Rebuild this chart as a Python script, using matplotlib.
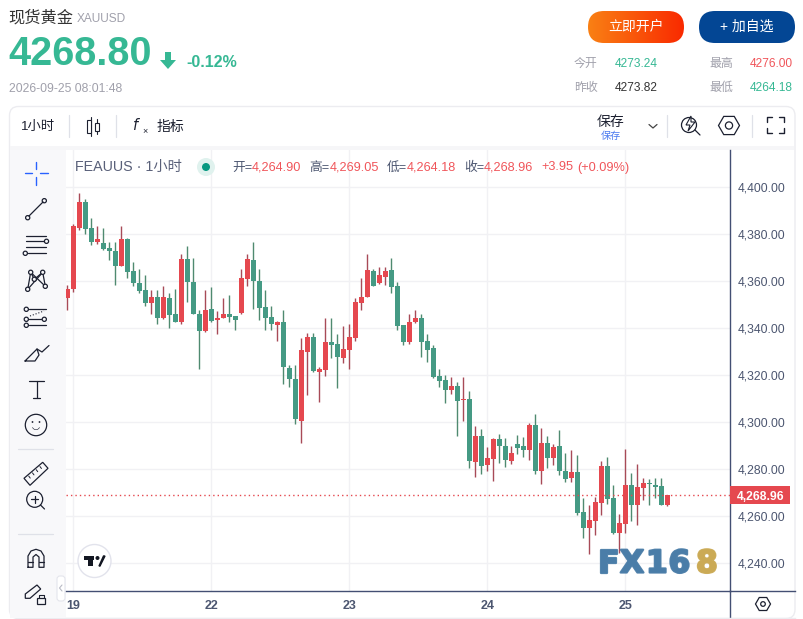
import numpy as np
import matplotlib
matplotlib.use("Agg")
import matplotlib.pyplot as plt
from matplotlib.patches import FancyBboxPatch, Circle, Polygon, Rectangle, RegularPolygon, Wedge
import matplotlib.patheffects as pe

plt.rcParams['font.family'] = ['Liberation Sans', 'Noto Sans CJK SC']

opens = [4352.6, 4356.5, 4382.4, 4393.3, 4382.3, 4376.3, 4375.9, 4373.8, 4372.5, 4366.2,
         4377.6, 4364.0, 4358.9, 4355.9, 4350.5, 4353.3, 4344.1, 4352.9, 4345.7, 4342.4,
         4369.1, 4359.7, 4346.1, 4338.6, 4348.2, 4343.3, 4344.1, 4346.1, 4345.2, 4346.2,
         4360.7, 4368.7, 4360.1, 4348.7, 4344.8, 4341.1, 4342.7, 4323.1, 4318.4, 4300.6,
         4329.6, 4336.3, 4321.4, 4322.3, 4333.8, 4333.3, 4327.4, 4330.8, 4335.9, 4350.4,
         4353.3, 4364.0, 4358.9, 4361.8, 4364.4, 4357.6, 4341.4, 4333.8, 4342.3, 4344.4,
         4334.6, 4331.6, 4319.7, 4318.0, 4313.8, 4315.5, 4309.5, 4309.9, 4283.1, 4294.2,
         4281.8, 4284.4, 4292.9, 4289.9, 4283.5, 4290.8, 4289.9, 4288.2, 4298.9, 4279.3,
         4291.2, 4284.8, 4289.9, 4279.3, 4276.3, 4278.9, 4261.8, 4255.0, 4258.0, 4265.7,
         4281.4, 4267.8, 4252.9, 4256.7, 4273.3, 4264.8, 4272.1, 4274.2, 4273.3, 4272.9,
         4264.90]
highs = [4358.4, 4384.0, 4397.2, 4394.6, 4386.5, 4383.5, 4382.3, 4376.3, 4376.3, 4383.5,
         4378.0, 4368.2, 4365.2, 4362.3, 4355.9, 4356.3, 4357.6, 4355.0, 4356.7, 4371.2,
         4375.0, 4369.5, 4347.4, 4356.3, 4357.2, 4347.0, 4352.5, 4353.8, 4345.2, 4365.2,
         4371.2, 4376.3, 4365.2, 4355.9, 4349.5, 4343.1, 4347.4, 4324.4, 4324.4, 4335.5,
         4338.0, 4338.0, 4323.5, 4344.0, 4344.0, 4337.6, 4341.0, 4341.8, 4352.9, 4361.0,
         4371.2, 4365.1, 4365.7, 4365.7, 4369.5, 4359.3, 4341.4, 4345.7, 4347.4, 4345.7,
         4337.2, 4332.9, 4322.7, 4320.1, 4319.3, 4317.2, 4319.3, 4313.3, 4298.4, 4297.2,
         4289.5, 4293.3, 4295.0, 4293.3, 4289.9, 4294.6, 4293.8, 4299.7, 4303.5, 4297.6,
         4294.2, 4290.8, 4296.7, 4287.0, 4288.2, 4286.1, 4267.8, 4264.8, 4268.2, 4283.5,
         4285.2, 4273.3, 4261.0, 4288.7, 4278.4, 4282.3, 4276.3, 4275.9, 4276.3, 4276.3,
         4269.05]
lows = [4347.8, 4355.2, 4381.4, 4379.7, 4375.2, 4375.5, 4372.9, 4368.7, 4358.4, 4366.1,
        4361.0, 4357.6, 4355.0, 4349.1, 4346.1, 4341.8, 4343.7, 4340.1, 4342.3, 4341.8,
        4351.2, 4345.7, 4322.7, 4338.4, 4342.7, 4337.2, 4344.0, 4342.3, 4338.9, 4346.1,
        4358.0, 4348.2, 4343.5, 4339.3, 4339.3, 4334.6, 4316.3, 4315.0, 4299.3, 4291.2,
        4311.6, 4321.4, 4308.7, 4319.7, 4327.4, 4314.6, 4325.2, 4322.7, 4334.6, 4347.4,
        4353.3, 4357.6, 4358.7, 4358.4, 4355.0, 4338.9, 4332.9, 4333.3, 4342.1, 4327.8,
        4325.7, 4318.9, 4315.0, 4308.2, 4312.1, 4294.2, 4300.6, 4280.6, 4276.5, 4278.0,
        4279.0, 4275.1, 4282.7, 4281.0, 4282.3, 4286.5, 4285.2, 4284.0, 4278.0, 4273.8,
        4280.6, 4281.8, 4277.6, 4274.6, 4274.6, 4260.6, 4250.8, 4244.0, 4252.1, 4260.6,
        4265.2, 4252.5, 4244.3, 4252.9, 4258.0, 4256.3, 4267.0, 4264.8, 4267.8, 4264.8,
        4264.18]
closes = [4356.7, 4383.1, 4393.3, 4382.0, 4376.5, 4377.6, 4373.5, 4372.6, 4366.2, 4377.6,
          4363.7, 4359.0, 4355.6, 4350.5, 4353.3, 4344.1, 4353.3, 4345.4, 4342.4, 4369.1,
          4359.4, 4345.8, 4338.6, 4347.8, 4342.8, 4344.4, 4346.1, 4344.5, 4343.3, 4361.0,
          4369.1, 4359.9, 4348.4, 4344.1, 4341.6, 4342.7, 4323.3, 4318.4, 4301.1, 4330.4,
          4336.3, 4321.6, 4322.7, 4333.8, 4332.9, 4327.8, 4331.2, 4336.3, 4350.8, 4353.3,
          4364.4, 4358.0, 4362.3, 4364.0, 4357.2, 4341.0, 4333.8, 4342.7, 4344.4, 4334.2,
          4330.8, 4319.3, 4317.6, 4313.8, 4315.5, 4309.1, 4309.9, 4283.5, 4294.2, 4281.4,
          4284.8, 4292.9, 4289.9, 4284.0, 4286.9, 4289.1, 4288.2, 4298.9, 4279.3, 4291.2,
          4284.8, 4289.5, 4279.3, 4275.9, 4278.9, 4261.4, 4255.0, 4258.4, 4266.1, 4281.4,
          4267.4, 4252.9, 4257.2, 4273.3, 4264.8, 4272.5, 4274.2, 4273.8, 4272.5, 4264.8,
          4268.96]
day_pos = [1, 24, 47, 70, 93]
day_labels = ['19', '22', '23', '24', '25']
price_ticks = [4240, 4260, 4280, 4300, 4320, 4340, 4360, 4380, 4400]
last_price = 4268.96

RED = '#e5484f'
GREEN = '#459a84'
UP = '#36b894'
DOWN = '#f0555a'
INK = '#1c2030'
SLATE = '#4c5670'
MUTED = '#a0a0ab'
AXIS = '#434f73'

fig = plt.figure(figsize=(8.04, 6.19), dpi=100, facecolor='white')

# page furniture, in pixels
bg = fig.add_axes([0, 0, 1, 1], zorder=0)
bg.set_xlim(0, 804)
bg.set_ylim(619, 0)
bg.axis('off')


def pill(x, y, w, h, r, **kw):
    p = FancyBboxPatch((x, y), w, h, boxstyle=f"round,pad=0,rounding_size={r}", **kw)
    bg.add_patch(p)
    return p


def seg(xs, ys, color=INK, lw=0.9, **kw):
    bg.plot(xs, ys, color=color, lw=lw, solid_capstyle='round', **kw)


def ring(x, y, r, color=INK, lw=0.9):
    bg.add_patch(Circle((x, y), r, fc='none', ec=color, lw=lw))


def txt(x, y, s, size, color=INK, ha='left', **kw):
    bg.text(x, y, s, fontsize=size, color=color, ha=ha, va='center', **kw)


# header
txt(8, 18, '现货黄金', 11.7, '#333333')
txt(77, 18.5, 'XAUUSD', 8.6, MUTED)
txt(8, 54, '4268.80', 28.5, UP, fontweight='bold')
bg.add_patch(Polygon([[165, 52], [171, 52], [171, 60], [176, 60], [168, 69], [160, 60], [165, 60]], fc=UP, ec='none'))
txt(186, 62.5, '-0.12%', 11.5, UP, fontweight='bold')
txt(9, 88.5, '2026-09-25 08:01:48', 8.8, MUTED)

# buttons
btn = pill(588, 11, 96, 32, 16, fc='none', ec='none')
im = bg.imshow(np.linspace(0, 1, 96).reshape(1, -1), extent=(588, 684, 43, 11), aspect='auto',
               cmap=matplotlib.colors.LinearSegmentedColormap.from_list('b', ['#f98014', '#f92a00']))
im.set_clip_path(btn)
bg.set_xlim(0, 804)
bg.set_ylim(619, 0)
txt(636, 27, '立即开户', 10, 'white', ha='center')
pill(699, 11, 96, 32, 16, fc='#034694', ec='none')
txt(747, 27, '+ 加自选', 10, 'white', ha='center')

# quote table
for x, y, s, c in [(574, 64, '今开', MUTED), (615, 64, '4273.24', UP), (709, 64, '最高', MUTED), (750, 64, '4276.00', DOWN),
                   (574, 88, '昨收', MUTED), (615, 88, '4273.82', '#333333'), (709, 88, '最低', MUTED), (750, 88, '4264.18', UP)]:
    txt(x, y, s, 8.6, c)

# card and toolbar
pill(9.5, 106.5, 785.5, 512, 9, fc='white', ec='#ececf0', lw=1)
bg.add_patch(Rectangle((10, 146), 784, 4, fc='#f6f6f8', ec='none'))
bg.add_patch(Rectangle((10, 150), 56, 468, fc='#f8f8fa', ec='none'))
for x in [69.5, 116.5, 667.5, 752.5]:
    seg([x, x], [115, 137], color='#dfe1e8', lw=0.9)
txt(21, 127, '1小时', 9.6, INK)
# candle icon
seg([91, 91], [117, 136], lw=0.8)
bg.add_patch(Rectangle((87.5, 120), 4, 13, fc='white', ec=INK, lw=0.8, zorder=3))
seg([97.5, 97.5], [119, 134], lw=0.8)
bg.add_patch(Rectangle((95.5, 122.5), 4, 8, fc='white', ec=INK, lw=0.8, zorder=3))
txt(132, 125, '$f$', 10.5, INK)
txt(142.5, 131.5, '×', 6.5, INK)
txt(157, 127, '指标', 10, INK)
txt(597, 122, '保存', 10, INK)
txt(610.5, 135.5, '保存', 7.3, '#4c7bf0', ha='center')
seg([649, 653, 657], [124.5, 128, 124.5], color='#444444')
# lightning / magnifier
ring(689, 125, 7.5)
seg([695, 700], [130, 135])
bg.add_patch(Polygon([[691, 116], [686, 125], [690, 125], [688, 131], [695, 122], [691, 122]], fc='white', ec=INK, lw=0.8, zorder=3))
# settings hexagon
bg.add_patch(RegularPolygon((729, 125.5), 6, radius=10.5, orientation=np.pi / 6, fc='none', ec=INK, lw=0.9))
ring(729, 125.5, 3.6)
# fullscreen
for xa, xb, ya, yb in [(767, 772, 117, 122), (784, 779, 117, 122), (767, 772, 133, 128), (784, 779, 133, 128)]:
    seg([xa, xa, xb], [yb, ya, ya], lw=1)

# drawing tools
seg([25, 32], [173, 173], color='#2962ff', lw=1)
seg([40, 48], [173, 173], color='#2962ff', lw=1)
seg([36, 36], [162, 169], color='#2962ff', lw=1)
seg([36, 36], [177, 185], color='#2962ff', lw=1)
seg([29, 43], [216, 202])
ring(27.7, 217.7, 2.1)
ring(44.3, 200.7, 2.1)
seg([26, 46], [236, 236])
seg([26, 44], [241.3, 241.3])
seg([26, 46], [247, 247])
seg([28, 46], [253.3, 253.3])
ring(46.5, 241.3, 2.1)
ring(25.3, 253.3, 2.1)
net = [(27.7, 289.3), (30.7, 272.3), (34.3, 279.3), (42.7, 272.3), (45.3, 286.3)]
seg([p[0] for p in net], [p[1] for p in net])
seg([30.7, 45.3], [272.3, 286.3])
seg([27.7, 42.7], [289.3, 272.3])
for p in net:
    bg.add_patch(Circle(p, 2.1, fc='#f8f8fa', ec=INK, lw=0.9, zorder=3))
seg([29, 46], [309.3, 309.3])
seg([29, 41], [319.3, 319.3])
seg([29, 46], [325.3, 325.3])
seg([30, 44], [316, 311], lw=0.8, ls=':')
for p in [(26.3, 309.3), (26.3, 319.3), (26.3, 325.3), (44.3, 319.3)]:
    ring(p[0], p[1], 2.1)
seg([25, 35, 39, 37, 25], [361, 361, 355, 349, 361])
seg([37, 42, 49], [349, 352, 345.5])
seg([29.3, 44], [380.7, 380.7])
seg([36.7, 36.7], [380.7, 397.7])
seg([33.5, 40], [397.7, 397.7])
ring(36, 425, 10.7)
bg.add_patch(Circle((32.5, 422), 0.9, fc=INK, ec='none'))
bg.add_patch(Circle((39.5, 422), 0.9, fc=INK, ec='none'))
bg.add_patch(Wedge((36, 426), 4, 20, 160, width=0.6, fc=INK, ec='none'))
seg([18, 53], [449.3, 449.3], color='#dfe1e8')
bg.add_patch(Polygon([[24, 478.3], [42.7, 462.3], [48, 468.3], [30, 485.3]], fc='none', ec=INK, lw=0.9))
for t in [0.2, 0.4, 0.6, 0.8]:
    seg([24 + 18.7 * t + 1, 24 + 18.7 * t + 2.5], [478.3 - 16 * t + 1, 478.3 - 16 * t + 3], lw=0.7)
ring(34.7, 499.3, 8)
seg([40.5, 44.5], [505, 509])
seg([31, 38.5], [499.3, 499.3])
seg([34.7, 34.7], [495.5, 503])
seg([18, 53], [534.3, 534.3], color='#dfe1e8')
seg([28, 28, 31, 36, 41, 44, 44, 39, 39, 36, 33, 33, 28, 28],
    [567.3, 556, 551, 549.3, 551, 556, 567.3, 567.3, 557, 554.5, 557, 567.3, 567.3, 567.3])
seg([28, 33], [562, 562])
seg([39, 44], [562, 562])
bg.add_patch(Polygon([[25.3, 594], [37, 585], [40.7, 589], [30, 598.3], [25.3, 598.3]], fc='none', ec=INK, lw=0.9))
bg.add_patch(Rectangle((37.5, 598), 8, 6, fc='#f8f8fa', ec=INK, lw=0.9, zorder=3))
seg([39.3, 39.3, 43.7, 43.7], [598, 594.5, 594.5, 598], lw=0.8)
pill(57, 576, 8, 25, 3, fc='white', ec='#e4e5ec', lw=0.8, zorder=4)
seg([62, 59.5, 62], [585, 588, 591], color='#b8bac5', lw=0.8, zorder=5)

# candles, on their own scale
ax = fig.add_axes([66 / 804, (619 - 590.7) / 619, (730.3 - 66) / 804, (590.7 - 150) / 619], zorder=1)
ax.set_facecolor('none')
x = np.arange(len(opens))
o = np.array(opens)
c = np.array(closes)
is_up = c >= o
body_colors = np.where(is_up, RED, GREEN)
wick_colors = np.where(is_up, '#a84a57', '#4f8a70')
ax.vlines(x, lows, highs, colors=wick_colors, lw=1.0, zorder=3)
ax.bar(x, np.maximum(np.abs(c - o), 0.4), bottom=np.minimum(o, c), width=0.88, color=body_colors, linewidth=0, zorder=4)
ax.axhline(last_price, color=RED, lw=1, ls=(0, (1, 2.2)), zorder=5)
ax.set_xlim(-0.217, 110.5)
ax.set_ylim(4228.3, 4415.6)
ax.set_yticks(price_ticks)
ax.set_yticklabels([f'{v:,.2f}' for v in price_ticks], fontsize=8.7, color=SLATE, va='center_baseline')
ax.yaxis.tick_right()
ax.set_xticks(day_pos)
ax.set_xticklabels(day_labels, fontsize=9, color=SLATE, fontweight='bold')
ax.tick_params(axis='y', length=0, pad=5.5)
ax.tick_params(axis='x', length=0, pad=7)
ax.grid(True, color='#f1f1f4', lw=1, zorder=0)
ax.set_axisbelow(True)
for side in ['left', 'top']:
    ax.spines[side].set_visible(False)
for side in ['right', 'bottom']:
    ax.spines[side].set_color(AXIS)
    ax.spines[side].set_linewidth(1)
# last price flag on the axis
ytrans = ax.get_yaxis_transform()
ax.add_patch(Rectangle((1.0, last_price - 4.0), 60 / 664.3, 8.0, transform=ytrans, fc=RED, ec='none', clip_on=False, zorder=6))
ax.text(1.0 + 7 / 664.3, last_price, f'{last_price:,.2f}', transform=ytrans, fontsize=8.7, color='white',
        va='center_baseline', ha='left', fontweight='bold', clip_on=False, zorder=7)

# things over the chart, in pixels again
top = fig.add_axes([0, 0, 1, 1], zorder=2)
top.set_xlim(0, 804)
top.set_ylim(619, 0)
top.axis('off')
top.plot([730, 795], [590.7, 590.7], color=AXIS, lw=1)
top.plot([730.3, 730.3], [590.7, 618], color=AXIS, lw=1)
top.plot([66, 795], [618, 618], color='#ececf0', lw=1)
top.add_patch(RegularPolygon((763, 604), 6, radius=7.5, orientation=np.pi / 6, fc='none', ec=INK, lw=0.9))
top.add_patch(Circle((763, 604), 2.3, fc='none', ec=INK, lw=0.9))

top.text(75, 167, 'FEAUUS · 1小时', fontsize=10.3, color='#596079', va='center')
top.add_patch(Circle((206, 167), 9, fc='#e0f2ee', ec='none'))
top.add_patch(Circle((206, 167), 4, fc='#089981', ec='none'))
for lx, s, col in [(232, '开=', SLATE), (252, '4,264.90', DOWN), (309, '高=', SLATE), (330, '4,269.05', DOWN),
                   (387, '低=', SLATE), (407, '4,264.18', DOWN), (464, '收=', SLATE), (484, '4,268.96', DOWN),
                   (541, '+3.95', DOWN), (577, '(+0.09%)', DOWN)]:
    top.text(lx, 167.5, s, fontsize=9.2, color=col, va='center')

# watermark
for lx, s, col in [(598, 'F', '#4a7da8'), (620, 'X', '#4a7da8'), (646, '1', '#4a7da8'), (668.5, '6', '#4a7da8'), (696, '8', '#cbaa55')]:
    top.text(lx, 564, s, fontsize=22.5, color=col, fontweight='bold', family='DejaVu Sans', va='center', alpha=0.95,
             path_effects=[pe.withStroke(linewidth=1.6, foreground=col)])

# chart-maker badge
top.add_patch(Circle((94.5, 561), 16.5, fc='white', ec='#e2e3ec', lw=1))
top.add_patch(Rectangle((84, 556), 10.5, 4, fc='#131722', ec='none'))
top.add_patch(Rectangle((88.5, 556), 4.5, 10, fc='#131722', ec='none'))
top.add_patch(Circle((97.5, 558), 2, fc='#131722', ec='none'))
top.add_patch(Polygon([[99, 566], [103.5, 556], [105, 556], [105, 556], [100, 566]], fc='#131722', ec='#131722', lw=1))

fig.savefig('out.png', dpi=100)
